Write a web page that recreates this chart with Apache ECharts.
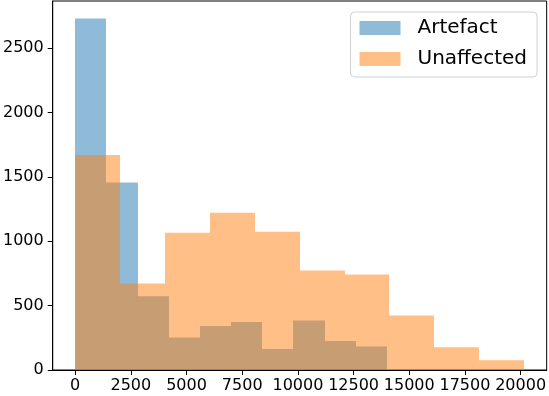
<!DOCTYPE html>
<html>
<head>
<meta charset="utf-8">
<script src="https://cdn.jsdelivr.net/npm/echarts@6/dist/echarts.min.js"></script>
<style>
    * { margin: 0; padding: 0; }
    body { background: #fff; }
    #main { width: 549px; height: 396px; }
</style>
</head>
<body>
<div id="main"></div>
<script>
    // bin edges and counts
    let artefactEdges = [0, 1400, 2800, 4200, 5600, 7000, 8400, 9800, 11200, 12600, 14000]
    let artefactCounts = [2730, 1455, 573, 253, 341, 372, 163, 385, 225, 183]
    let unaffectedEdges = [0, 2016, 4032, 6048, 8064, 10080, 12096, 14112, 16128, 18144, 20160]
    let unaffectedCounts = [1669, 671, 1066, 1220, 1074, 772, 741, 423, 176, 75]
    let xTicks = [0, 2500, 5000, 7500, 10000, 12500, 15000, 17500, 20000]
    let yTicks = [0, 500, 1000, 1500, 2000, 2500]

    function bins(edges, counts) {
        let out = []
        for (let i = 0; i < counts.length; i++) {
            out.push([edges[i], edges[i + 1], counts[i]])
        }
        return out
    }

    function renderBin(params, api) {
        let p0 = api.coord([api.value(0), api.value(2)])
        let p1 = api.coord([api.value(1), 0])
        let x0 = Math.round(p0[0]), x1 = Math.round(p1[0])
        return {
            type: 'rect',
            shape: {x: x0, y: p0[1], width: x1 - x0, height: p1[1] - p0[1]},
            style: {fill: api.visual('color')}
        }
    }

    let myChart = echarts.init(document.getElementById('main'))
    let font = 'DejaVu Sans'
    let plain = function (v) { return String(v) }
    let option = {
        animation: false,
        grid: {
            left: 51, right: 1, top: 1, bottom: 26,
            show: true, borderColor: '#000', borderWidth: 1, backgroundColor: 'transparent'
        },
        legend: {
            orient: 'vertical',
            right: 12,
            top: 12,
            padding: [6, 10, 8, 9],
            itemGap: 11,
            itemWidth: 41,
            itemHeight: 14,
            backgroundColor: '#fff',
            borderColor: '#d0d0d0',
            borderWidth: 1,
            borderRadius: 4,
            textStyle: {fontFamily: font, fontSize: 20, color: '#000', padding: [0, 0, 0, 12]},
            data: [{name: 'Artefact', icon: 'rect'}, {name: 'Unaffected', icon: 'rect'}]
        },
        xAxis: {
            type: 'value',
            min: -1008,
            max: 21168,
            splitLine: {show: false},
            axisLine: {show: true, onZero: false, lineStyle: {color: '#000'}},
            axisTick: {show: true, length: 5, lineStyle: {color: '#000'}, customValues: xTicks},
            axisLabel: {
                color: '#000', fontFamily: font, fontSize: 16, margin: 8,
                customValues: xTicks, formatter: plain
            }
        },
        yAxis: {
            type: 'value',
            min: 0,
            max: 2865,
            splitLine: {show: false},
            axisLine: {show: true, onZero: false, lineStyle: {color: '#000'}},
            axisTick: {show: true, length: 5, lineStyle: {color: '#000'}, customValues: yTicks},
            axisLabel: {
                color: '#000', fontFamily: font, fontSize: 16, margin: 9,
                customValues: yTicks, formatter: plain
            }
        },
        series: [
            {
                name: 'Artefact',
                type: 'custom',
                renderItem: renderBin,
                itemStyle: {color: 'rgba(31,119,180,0.5)'},
                encode: {x: [0, 1], y: 2},
                data: bins(artefactEdges, artefactCounts)
            },
            {
                name: 'Unaffected',
                type: 'custom',
                renderItem: renderBin,
                itemStyle: {color: 'rgba(255,127,14,0.5)'},
                encode: {x: [0, 1], y: 2},
                data: bins(unaffectedEdges, unaffectedCounts)
            }
        ]
    }
    myChart.setOption(option)
</script>
</body>
</html>
